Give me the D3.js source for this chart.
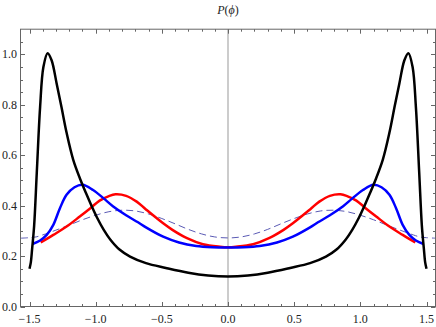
<!DOCTYPE html>
<html>
<head>
<meta charset="utf-8">
<script src="https://cdn.jsdelivr.net/npm/d3@7"></script>
<style>
  body { margin: 0; background: #fff; }
  svg text { font-family: "Liberation Serif", "Times New Roman", "DejaVu Serif", serif; fill: #222; }
</style>
</head>
<body>
<svg id="chart" width="436" height="327"></svg>
<script>
// values
const blackPhi = [-1.50, -1.49, -1.48, -1.465, -1.445, -1.42, -1.395, -1.363, -1.333, -1.295, -1.258, -1.22, -1.17, -1.115, -1.07, -1.03, -0.99, -0.94, -0.89, -0.82, -0.74, -0.62, -0.47, -0.3, -0.15, 0,
  0.15, 0.3, 0.47, 0.62, 0.74, 0.82, 0.89, 0.94, 0.99, 1.03, 1.07, 1.115, 1.17, 1.22, 1.258, 1.295, 1.333, 1.363, 1.395, 1.42, 1.445, 1.465, 1.48, 1.49, 1.50];
const blackP = [0.15, 0.175, 0.23, 0.32, 0.53, 0.79, 0.95, 1.005, 0.977, 0.885, 0.79, 0.69, 0.583, 0.503, 0.446, 0.398, 0.353, 0.305, 0.266, 0.226, 0.198, 0.172, 0.153, 0.134, 0.123, 0.119,
  0.123, 0.134, 0.153, 0.172, 0.198, 0.226, 0.266, 0.305, 0.353, 0.398, 0.446, 0.503, 0.583, 0.69, 0.79, 0.885, 0.977, 1.005, 0.95, 0.79, 0.53, 0.32, 0.23, 0.175, 0.15];

const bluePhi = [-1.478, -1.42, -1.37, -1.32, -1.27, -1.22, -1.16, -1.10, -1.02, -0.94, -0.87, -0.77, -0.68, -0.62, -0.49, -0.37, -0.24, -0.12, 0,
  0.12, 0.24, 0.37, 0.49, 0.62, 0.68, 0.77, 0.87, 0.94, 1.02, 1.10, 1.16, 1.22, 1.27, 1.32, 1.37, 1.42, 1.478];
const blueP = [0.248, 0.262, 0.284, 0.324, 0.39, 0.443, 0.473, 0.483, 0.462, 0.429, 0.398, 0.362, 0.334, 0.314, 0.277, 0.254, 0.240, 0.235, 0.234,
  0.235, 0.240, 0.254, 0.277, 0.314, 0.334, 0.362, 0.398, 0.429, 0.462, 0.483, 0.473, 0.443, 0.39, 0.324, 0.284, 0.262, 0.248];

const redPhi = [-1.415, -1.32, -1.22, -1.12, -1.04, -0.97, -0.90, -0.85, -0.77, -0.69, -0.62, -0.49, -0.42, -0.31, -0.19, -0.06, 0,
  0.06, 0.19, 0.31, 0.42, 0.49, 0.62, 0.69, 0.77, 0.85, 0.90, 0.97, 1.04, 1.12, 1.22, 1.32, 1.415];
const redP = [0.254, 0.284, 0.317, 0.357, 0.390, 0.420, 0.438, 0.445, 0.439, 0.416, 0.385, 0.330, 0.304, 0.271, 0.247, 0.237, 0.235,
  0.237, 0.247, 0.271, 0.304, 0.330, 0.385, 0.416, 0.439, 0.445, 0.438, 0.420, 0.390, 0.357, 0.317, 0.284, 0.254];

const dashPhi = [-1.567, -1.50, -1.45, -1.40, -1.30, -1.20, -1.10, -1.00, -0.90, -0.80, -0.70, -0.60, -0.50, -0.40, -0.30, -0.20, -0.10, 0,
  0.10, 0.20, 0.30, 0.40, 0.50, 0.60, 0.70, 0.80, 0.90, 1.00, 1.10, 1.20, 1.30, 1.40, 1.45, 1.50, 1.567];
const dashP = [0.271, 0.273, 0.276, 0.284, 0.303, 0.323, 0.344, 0.362, 0.376, 0.382, 0.379, 0.367, 0.349, 0.328, 0.306, 0.288, 0.276, 0.272,
  0.276, 0.288, 0.306, 0.328, 0.349, 0.367, 0.379, 0.382, 0.376, 0.362, 0.344, 0.323, 0.303, 0.284, 0.276, 0.273, 0.271];

const xTicks = [-1.5, -1.0, -0.5, 0.0, 0.5, 1.0, 1.5];
const yTicks = [0.0, 0.2, 0.4, 0.6, 0.8, 1.0];

const svg = d3.select('#chart');
const frame = { left: 20.5, right: 435.5, top: 29.2, bottom: 306.5 };

const x = d3.scaleLinear().domain([-1.5, 1.5]).range([29.5, 426.5]);
const y = d3.scaleLinear().domain([0, 1.1]).range([frame.bottom, frame.top]);

svg.append('clipPath').attr('id', 'clip')
  .append('rect')
  .attr('x', frame.left).attr('y', frame.top)
  .attr('width', frame.right - frame.left).attr('height', frame.bottom - frame.top);

// axis line at phi = 0
svg.append('line')
  .attr('x1', x(0)).attr('x2', x(0))
  .attr('y1', frame.top).attr('y2', frame.bottom)
  .attr('stroke', '#999').attr('stroke-width', 1);

const line = d3.line()
  .x((d) => x(d[0]))
  .y((d) => y(d[1]))
  .curve(d3.curveCatmullRom.alpha(0.5));

const plot = svg.append('g').attr('clip-path', 'url(#clip)');

function drawSeries(phi, p, color, w, dash) {
  const pts = phi.map((v, i) => [v, p[i]]);
  const path = plot.append('path')
    .attr('d', line(pts))
    .attr('fill', 'none')
    .attr('stroke', color)
    .attr('stroke-width', w)
    .attr('stroke-linejoin', 'round');
  if (dash) path.attr('stroke-dasharray', dash);
}

drawSeries(dashPhi, dashP, '#5a5ab4', 1, '7,4');
drawSeries(redPhi, redP, '#ff0000', 2.5);
drawSeries(bluePhi, blueP, '#0000ff', 2.5);
drawSeries(blackPhi, blackP, '#000000', 2.5);

// frame
svg.append('rect')
  .attr('x', frame.left).attr('y', frame.top)
  .attr('width', frame.right - frame.left).attr('height', frame.bottom - frame.top)
  .attr('fill', 'none').attr('stroke', '#666').attr('stroke-width', 1);

const ticks = svg.append('g').attr('stroke', '#666').attr('stroke-width', 1);
const xMinor = d3.range(-15, 16).map((i) => i / 10);
xMinor.forEach((v) => {
  const major = Math.abs(v * 2 - Math.round(v * 2)) < 1e-6;
  const len = major ? 4.5 : 2.5;
  const px = Math.round(x(v)) + 0.5;
  ticks.append('line').attr('x1', px).attr('x2', px).attr('y1', frame.bottom).attr('y2', frame.bottom - len);
  ticks.append('line').attr('x1', px).attr('x2', px).attr('y1', frame.top).attr('y2', frame.top + len);
});
const yMinor = d3.range(0, 22).map((i) => i * 0.05);
yMinor.forEach((v) => {
  const major = Math.abs(v * 5 - Math.round(v * 5)) < 1e-6;
  const len = major ? 4.5 : 2.5;
  const py = Math.round(y(v)) + 0.5;
  ticks.append('line').attr('x1', frame.left).attr('x2', frame.left + len).attr('y1', py).attr('y2', py);
  ticks.append('line').attr('x1', frame.right).attr('x2', frame.right - len).attr('y1', py).attr('y2', py);
});

const fmt = (v) => (v < 0 ? '\u2212' : '') + Math.abs(v).toFixed(1);

svg.append('g').selectAll('text')
  .data(xTicks)
  .join('text')
  .attr('x', (d) => x(d))
  .attr('y', 323)
  .attr('text-anchor', 'middle')
  .attr('font-size', 12)
  .text(fmt);

svg.append('g').selectAll('text')
  .data(yTicks)
  .join('text')
  .attr('x', 17)
  .attr('y', (d) => y(d) + 4)
  .attr('text-anchor', 'end')
  .attr('font-size', 12)
  .text(fmt);

// title
const title = svg.append('text')
  .attr('x', x(0))
  .attr('y', 14)
  .attr('text-anchor', 'middle')
  .attr('font-size', 12);
title.append('tspan').attr('font-style', 'italic').text('P');
title.append('tspan').text('(');
title.append('tspan').attr('font-style', 'italic').text('\u03D5');
title.append('tspan').text(')');
</script>
</body>
</html>
